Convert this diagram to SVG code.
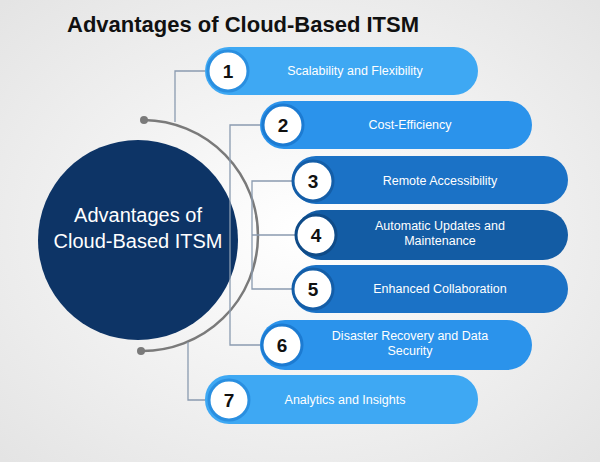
<svg xmlns="http://www.w3.org/2000/svg" width="600" height="462" viewBox="0 0 600 462">
<defs>
<radialGradient id="bg" cx="0.5" cy="0.5" r="0.7"><stop offset="0" stop-color="#ffffff"/><stop offset="1" stop-color="#e4e4e4"/></radialGradient>
</defs>
<style>
.t{font-family:"Liberation Sans",Arial,sans-serif;fill:#fff;font-size:12.5px;text-anchor:middle}
.n{font-family:"Liberation Sans",Arial,sans-serif;fill:#111;font-size:19px;font-weight:bold;text-anchor:middle}
.c{fill:#fff;stroke-width:3}
.ln{fill:none;stroke:#8a9bb0;stroke-width:1.3}
</style>
<rect width="600" height="462" fill="url(#bg)"/>
<text x="67" y="32" font-family="Liberation Sans,Arial,sans-serif" font-size="22" font-weight="bold" fill="#111">Advantages of Cloud-Based ITSM</text>
<g id="hub">
<circle cx="138" cy="240" r="100" fill="#0d3466"/>
<text x="138" y="222" class="t" font-size="20" style="font-size:20px">Advantages of</text>
<text x="138" y="248" class="t" style="font-size:20px">Cloud-Based ITSM</text>
<path d="M144,120 A115,115 0 0 1 141,351" fill="none" stroke="#7a7a7a" stroke-width="2.5"/>
<circle cx="144" cy="120" r="4" fill="#7a7a7a"/><circle cx="141" cy="351" r="4" fill="#7a7a7a"/>
</g>
<g id="connectors">
<path class="ln" d="M175,122 V71 H205"/>
<path class="ln" d="M260,125 H230 V345 H260"/>
<path class="ln" d="M292,181 H252 V289 H292 M252,235 H296"/>
<path class="ln" d="M188,342 V400 H205"/>
</g>
<g id="n1"><rect x="205" y="47" width="273" height="48" rx="24" fill="#3ea8f3"/><circle class="c" cx="228" cy="71" r="20" stroke="#2a8fe0"/><text class="n" x="228" y="78">1</text><text class="t" x="355" y="75">Scalability and Flexibility</text></g>
<g id="n2"><rect x="260" y="101" width="272" height="48" rx="24" fill="#2b93eb"/><circle class="c" cx="283" cy="125" r="20" stroke="#1c7bd2"/><text class="n" x="283" y="132">2</text><text class="t" x="410" y="129">Cost-Efficiency</text></g>
<g id="n3"><rect x="292" y="156" width="276" height="48" rx="24" fill="#1b72c6"/><circle class="c" cx="313" cy="181" r="20" stroke="#145ea8"/><text class="n" x="313" y="188">3</text><text class="t" x="440" y="185">Remote Accessibility</text></g>
<g id="n4"><rect x="296" y="210" width="272" height="50" rx="25" fill="#135ca4"/><circle class="c" cx="316" cy="235" r="20" stroke="#0f4b88"/><text class="n" x="316" y="242">4</text><text class="t" x="440" y="230">Automatic Updates and</text><text class="t" x="440" y="245">Maintenance</text></g>
<g id="n5"><rect x="292" y="265" width="276" height="48" rx="24" fill="#1b72c6"/><circle class="c" cx="313" cy="289" r="20" stroke="#145ea8"/><text class="n" x="313" y="296">5</text><text class="t" x="440" y="293">Enhanced Collaboration</text></g>
<g id="n6"><rect x="260" y="320" width="272" height="50" rx="25" fill="#2b93eb"/><circle class="c" cx="282" cy="345" r="20" stroke="#1c7bd2"/><text class="n" x="282" y="352">6</text><text class="t" x="410" y="340">Disaster Recovery and Data</text><text class="t" x="410" y="355">Security</text></g>
<g id="n7"><rect x="205" y="375" width="273" height="49" rx="24" fill="#3ea8f3"/><circle class="c" cx="229" cy="400" r="20" stroke="#2a8fe0"/><text class="n" x="229" y="407">7</text><text class="t" x="345" y="404">Analytics and Insights</text></g>
</svg>
